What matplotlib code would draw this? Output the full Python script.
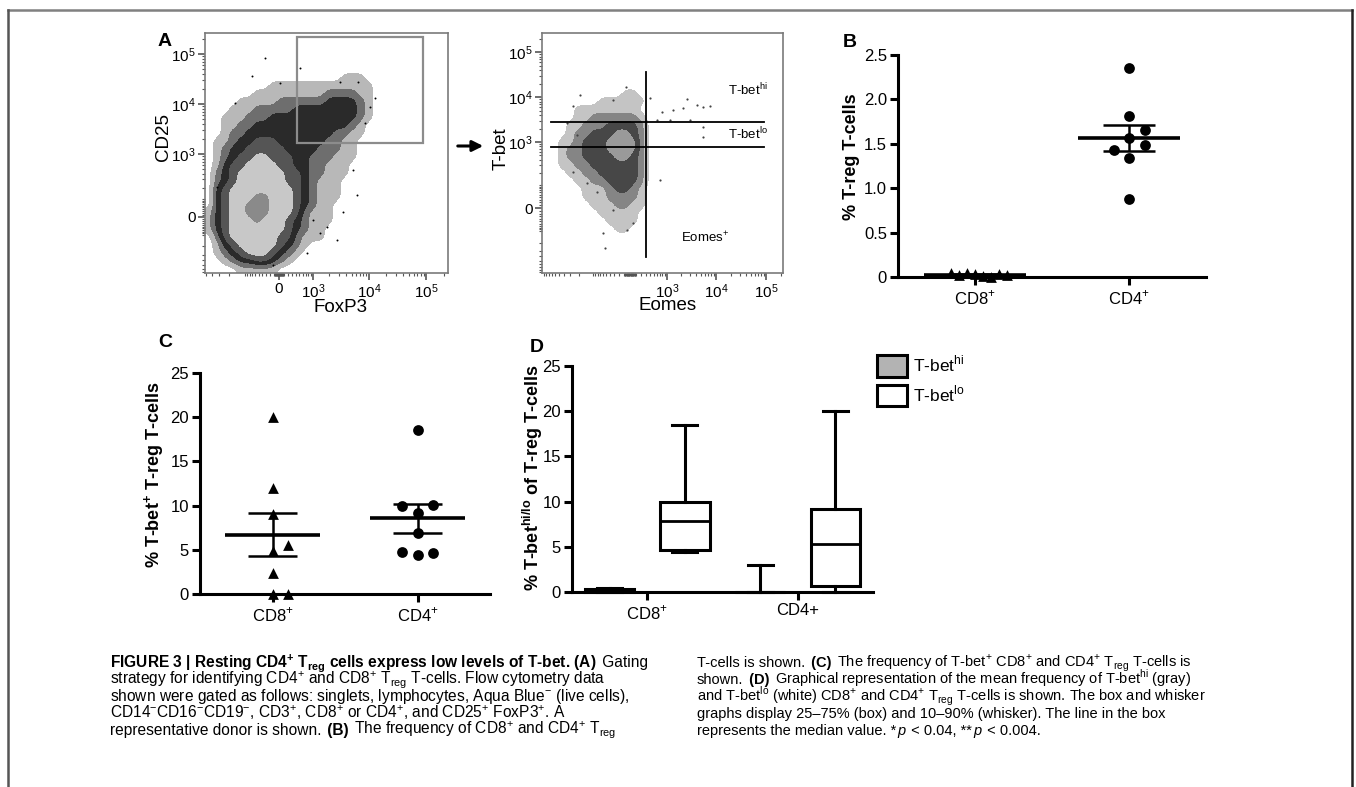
#!/usr/bin/env python3
# -*- coding: utf-8 -*-
"""Figure 3 重绘：流式门控图 (A) + GraphPad 风格散点 (B, C) + 箱线图 (D)。"""

import numpy as np
import matplotlib
matplotlib.use('Agg')
import matplotlib.pyplot as plt
from matplotlib.colors import BoundaryNorm, ListedColormap
from matplotlib.lines import Line2D
from matplotlib.patches import FancyArrowPatch, Patch, Rectangle

plt.rcParams['font.family'] = ['Liberation Sans', 'DejaVu Sans']
CAP_FONT = ['Liberation Sans Narrow', 'Liberation Sans', 'DejaVu Sans']

# ---------------------------------------------------------------- data
# (A) 左：FoxP3 x CD25 密度，每格 8 个通道，自上而下；0 空白 … 6 峰心
FOX_CD25_DENSITY = [
    "000000000000000000000000000000",
    "000000000000000000000000000000",
    "000000000000000000000000000000",
    "000000000000000000000000000000",
    "000000000000000000000000000000",
    "000000000000000001110000000000",
    "000000001111111111111000000000",
    "000000111111111222211000000000",
    "000011111222222333321000000000",
    "000111222223333333321000000000",
    "001112223333333333321000000000",
    "001122333333333333210000000000",
    "001223333333333322110000000000",
    "011233444333333221100000000000",
    "012334444433332221100000000000",
    "012344554443322211100000000000",
    "013445555443322111000000000000",
    "023455555544322111000000000000",
    "023455555544321110000000000000",
    "034555555554321110000000000000",
    "034555665554321110000000000000",
    "034556665554321100000000000000",
    "134556665554211100000000000000",
    "134555655543211100000000000000",
    "134555555543211000000000000000",
    "024555555442111000000000000000",
    "013455555432100000000000000000",
    "012345554321000000000000000000",
    "001233443210000000000000000000",
    "000011111000000000000000000000",
]
FOX_DOTS_X = [47, 75, 135, 153, 165, 152, 138, 132, 115, 30, 12, 68, 108, 122,
              102, 148, 160, 170, 95, 60]
FOX_DOTS_Y = [197, 190, 191, 191, 166, 78, 61, 33, 40, 170, 86, 8, 53, 46,
              20, 103, 150, 175, 205, 215]
FOX_GATE = [430, 87000]        # FoxP3
CD25_GATE = [1650, 220000]     # CD25

# (A) 右：Eomes x T-bet 密度
EOMES_TBET_DENSITY = [
    "000000000000000000000000000000",
    "000000000000000000000000000000",
    "000000000000000000000000000000",
    "000000000000000000000000000000",
    "000000000000000000000000000000",
    "000000000000000000000000000000",
    "000000000000000000000000000000",
    "000000000011000000000000000000",
    "000000011111100000000000000000",
    "000011111111000000000000000000",
    "000011222222100000000000000000",
    "000112223333200000000000000000",
    "000122333443200000000000000000",
    "001123334444200000000000000000",
    "001223334444200000000000000000",
    "001223333443200000000000000000",
    "001122333333200000000000000000",
    "000112233333200000000000000000",
    "000011223333200000000000000000",
    "000001112332100000000000000000",
    "000001112222100000000000000000",
    "000000111221100000000000000000",
    "000000011111000000000000000000",
    "000000001111000000000000000000",
    "000000000110000000000000000000",
    "000000000000000000000000000000",
    "000000000000000000000000000000",
    "000000000000000000000000000000",
    "000000000000000000000000000000",
    "000000000000000000000000000000",
]
EOMES_DOTS_X = [38, 31, 71, 84, 108, 120, 131, 141, 145, 155, 161, 168, 148,
                161, 161, 128, 118, 115, 31, 45, 55, 71, 63, 85, 61, 91, 35, 25]
EOMES_DOTS_Y = [178, 167, 173, 186, 175, 161, 163, 165, 174, 168, 166, 167, 153,
                146, 136, 153, 93, 153, 101, 90, 81, 63, 25, 43, 40, 50, 138, 150]
TBET_CUTS = [2800, 780]
TBET_CUT_SPAN = [-7200, 90000]   # 横线在 Eomes 方向的范围
EOMES_CUT = 300
EOMES_CUT_SPAN = [-415, 36000]   # 竖线在 T-bet 方向的范围

# (B) % T-reg T-cells
B_CD8 = [0.03, 0.01, 0.04, 0.00, 0.02, 0.03, 0.05, 0.02]
B_CD4 = [2.35, 1.81, 1.57, 1.34, 0.875, 1.66, 1.49, 1.43]

# (C) % T-bet+ T-reg T-cells
C_CD8 = [20.0, 12.0, 9.0, 4.9, 5.5, 2.4, 0.0, 0.0]
C_CD4 = [18.5, 9.2, 10.1, 10.0, 6.9, 4.4, 4.6, 4.7]

# (D) 箱线：10-90% 须，25-75% 箱
D_CATS = [r'CD8$^{\mathregular{+}}$', 'CD4+']
D_HI = [dict(whislo=0.0, q1=0.0, med=0.1, q3=0.3, whishi=0.4),
        dict(whislo=0.0, q1=0.0, med=0.0, q3=0.0, whishi=3.0)]
D_LO = [dict(whislo=4.4, q1=4.7, med=7.9, q3=10.0, whishi=18.5),
        dict(whislo=0.0, q1=0.7, med=5.3, q3=9.15, whishi=20.0)]

CAP_LEFT = [
    [(r'FIGURE 3 | Resting CD4$^{\mathregular{+}}$ T$_{\mathregular{reg}}$ cells express low levels of T-bet. (A)', 'b'),
     (' Gating', 'n')],
    [(r'strategy for identifying CD4$^{\mathregular{+}}$ and CD8$^{\mathregular{+}}$ T$_{\mathregular{reg}}$ T-cells. Flow cytometry data', 'n')],
    [(r'shown were gated as follows: singlets, lymphocytes, Aqua Blue$^{\mathregular{-}}$ (live cells),', 'n')],
    [(r'CD14$^{\mathregular{-}}$CD16$^{\mathregular{-}}$CD19$^{\mathregular{-}}$, CD3$^{\mathregular{+}}$, CD8$^{\mathregular{+}}$ or CD4$^{\mathregular{+}}$, and CD25$^{\mathregular{+}}$ FoxP3$^{\mathregular{+}}$. A', 'n')],
    [('representative donor is shown.', 'n'), (' (B)', 'b'),
     (r' The frequency of CD8$^{\mathregular{+}}$ and CD4$^{\mathregular{+}}$ T$_{\mathregular{reg}}$', 'n')],
]
CAP_RIGHT = [
    [('T-cells is shown.', 'n'), (' (C)', 'b'),
     (r' The frequency of T-bet$^{\mathregular{+}}$ CD8$^{\mathregular{+}}$ and CD4$^{\mathregular{+}}$ T$_{\mathregular{reg}}$ T-cells is', 'n')],
    [('shown.', 'n'), (' (D)', 'b'),
     (r' Graphical representation of the mean frequency of T-bet$^{\mathregular{hi}}$ (gray)', 'n')],
    [(r'and T-bet$^{\mathregular{lo}}$ (white) CD8$^{\mathregular{+}}$ and CD4$^{\mathregular{+}}$ T$_{\mathregular{reg}}$ T-cells is shown. The box and whisker', 'n')],
    [('graphs display 25–75% (box) and 10–90% (whisker). The line in the box', 'n')],
    [('represents the median value. *', 'n'), ('p', 'i'), (' < 0.04, **', 'n'),
     ('p', 'i'), (' < 0.004.', 'n')],
]

# 流式轴：通道 = 零点 + k * asinh(v / w)
A1_X = (74, 25.0, 550)
A1_Y = (56, 21.7, 110)
A2_X = (88, 21.7, 377)
A2_Y = (65, 19.5, 68)

W, H = 1356.0, 787.0
fig = plt.figure(figsize=(W / 100, H / 100), dpi=100)


def rect(x0, y0, x1, y1):
    """像素框 (左, 上, 右, 下) -> figure 坐标。"""
    return [x0 / W, 1 - y1 / H, (x1 - x0) / W, (y1 - y0) / H]


def chan(v, p):
    z, k, w = p
    return z + k * np.arcsinh(np.asarray(v, dtype=float) / w)


def dec_label(v):
    if v == 0:
        return '0'
    return r'$\mathregular{10^{%d}}$' % int(round(np.log10(v)))


def flow_axes(box, xp, yp, xmaj, ymaj):
    ax = fig.add_axes(rect(*box))
    wpx, hpx = box[2] - box[0], box[3] - box[1]
    for s in ax.spines.values():
        s.set_color('#7a7a7a')
        s.set_linewidth(1.2)
    minor = [s * m * 10 ** e for s in (1, -1) for e in range(1, 6) for m in range(1, 10)]
    for axis, p, maj, lim in ((ax.xaxis, xp, xmaj, wpx), (ax.yaxis, yp, ymaj, hpx)):
        axis.set_ticks(chan(maj, p))
        axis.set_ticklabels([dec_label(v) for v in maj])
        mn = chan([v for v in minor if v not in maj] + ([0] if 0 not in maj else []), p)
        axis.set_ticks(mn[(mn > 0) & (mn < lim)], minor=True)
    ax.tick_params(which='major', length=5, width=1.2, color='#555555',
                   labelsize=11, pad=1.5)
    ax.tick_params(which='minor', length=2.5, width=0.8, color='#555555')
    return ax, wpx, hpx


def density(ax, rows, colors, wpx, hpx):
    z = np.array([[int(c) for c in r.ljust(30, '0')[:30]] for r in rows[::-1]], float)
    cmap = ListedColormap([(1, 1, 1, 0)] + colors)
    norm = BoundaryNorm(np.arange(-0.5, len(colors) + 1), cmap.N)
    ax.imshow(z, origin='lower', extent=(0, 8 * z.shape[1], 0, 8 * z.shape[0]),
              cmap=cmap, norm=norm, interpolation='bicubic',
              interpolation_stage='data', aspect='auto', zorder=1)
    ax.set_xlim(0, wpx)
    ax.set_ylim(0, hpx)


def dodge(ax, x0, vals, step_px=15.5, diam_px=11.0, max_px=32.0):
    """GraphPad 式排布：同高度的点左右错开。"""
    tr = ax.transData.transform
    placed, offs = [], []
    for v in vals:
        py = tr((x0, v))[1]
        for k in (0, 1, -1, 2, -2, 3, -3, 4, -4, 5, -5):
            px = k * step_px
            if all(np.hypot(px - qx, py - qy) >= diam_px for qx, qy in placed):
                break
        placed.append((px, py))
        offs.append(px)
    offs = np.array(offs)
    if np.abs(offs).max() > max_px:
        offs *= max_px / np.abs(offs).max()
    sx = tr((1, 0))[0] - tr((0, 0))[0]
    return x0 + offs / sx


def prism_axes(box, ylim, yticks, ylabels, cats, ylabel, lab_xy):
    ax = fig.add_axes(rect(*box))
    ax.set_xlim(0.5, 2.5)
    ax.set_ylim(*ylim)
    for s in ('top', 'right'):
        ax.spines[s].set_visible(False)
    for s in ('left', 'bottom'):
        ax.spines[s].set_linewidth(2.2)
    ax.set_yticks(yticks)
    ax.set_yticklabels(ylabels)
    ax.set_xticks([1, 2])
    ax.set_xticklabels(cats)
    ax.tick_params(length=6, width=2.2, labelsize=12, pad=2)
    ax.text(lab_xy[0], lab_xy[1], ylabel, transform=ax.transAxes, rotation=90,
            ha='center', va='center', fontsize=13, fontweight='bold')
    return ax


def mean_sem(ax, x0, vals, half=0.33, cap=0.17):
    m = np.mean(vals)
    se = np.std(vals, ddof=1) / np.sqrt(len(vals))
    ax.hlines(m, x0 - half, x0 + half, color='black', lw=2.6, zorder=4)
    ax.vlines(x0, m - se, m + se, color='black', lw=1.8, zorder=4)
    ax.hlines([m - se, m + se], x0 - cap, x0 + cap, color='black', lw=1.8, zorder=4)


def points(ax, x0, vals, marker, **kw):
    xs = dodge(ax, x0, vals, **kw)
    ax.scatter(xs, vals, marker=marker, s=60, color='black', zorder=5,
               clip_on=False, linewidths=0)


# ---------------------------------------------------------------- A 左
ax, wpx, hpx = flow_axes((205, 33, 448, 273), A1_X, A1_Y,
                         [0, 1e3, 1e4, 1e5], [0, 1e3, 1e4, 1e5])
density(ax, FOX_CD25_DENSITY,
        ['#b8b8b8', '#6e6e6e', '#2a2a2a', '#555555', '#c8c8c8', '#8a8a8a'], wpx, hpx)
ax.scatter(FOX_DOTS_X, FOX_DOTS_Y, s=2, color='black', linewidths=0, zorder=2)
gx, gy = chan(FOX_GATE, A1_X), chan(CD25_GATE, A1_Y)
ax.add_patch(Rectangle((gx[0], gy[0]), gx[1] - gx[0], gy[1] - gy[0], fill=False,
                       ec='#8c8c8c', lw=1.6, zorder=3))
ax.text(0.556, -0.145, 'FoxP3', transform=ax.transAxes, ha='center', va='center',
        fontsize=13.5)
ax.text(-0.17, 0.567, 'CD25', transform=ax.transAxes, ha='center', va='center',
        rotation=90, fontsize=13.5)

# ---------------------------------------------------------------- A 右
ax, wpx, hpx = flow_axes((542, 33, 783, 273), A2_X, A2_Y,
                         [1e3, 1e4, 1e5], [0, 1e3, 1e4, 1e5])
density(ax, EOMES_TBET_DENSITY, ['#c4c4c4', '#858585', '#474747', '#9a9a9a'], wpx, hpx)
ax.scatter(EOMES_DOTS_X, EOMES_DOTS_Y, s=2.5, color='#444444', linewidths=0, zorder=2)
hx = chan(TBET_CUT_SPAN, A2_X)
for cut in TBET_CUTS:
    yc = float(chan(cut, A2_Y))
    ax.plot(hx, [yc, yc], color='black', lw=1.3, zorder=3)
xc = float(chan(EOMES_CUT, A2_X))
ax.plot([xc, xc], chan(EOMES_CUT_SPAN, A2_Y), color='black', lw=1.3, zorder=3)
ax.text(206, 183, r'T-bet$^{\mathregular{hi}}$', ha='center', va='center', fontsize=9.5)
ax.text(206, 139, r'T-bet$^{\mathregular{lo}}$', ha='center', va='center', fontsize=9.5)
ax.text(163, 35, r'Eomes$^{\mathregular{+}}$', ha='center', va='center', fontsize=9.5)
ax.text(0.519, -0.135, 'Eomes', transform=ax.transAxes, ha='center', va='center',
        fontsize=13.5)
ax.text(-0.17, 0.52, 'T-bet', transform=ax.transAxes, ha='center', va='center',
        rotation=90, fontsize=13.5)

fig.add_artist(FancyArrowPatch(
    (455 / W, 1 - 146 / H), (486 / W, 1 - 146 / H), transform=fig.transFigure,
    arrowstyle='-|>', mutation_scale=16, lw=2.2, color='black'))

# ---------------------------------------------------------------- B
ax = prism_axes((898, 55, 1206, 277), (0, 2.5), [0, 0.5, 1.0, 1.5, 2.0, 2.5],
                ['0', '0.5', '1.0', '1.5', '2.0', '2.5'],
                [r'CD8$^{\mathregular{+}}$', r'CD4$^{\mathregular{+}}$'],
                '% T-reg T-cells', (-0.15, 0.54))
mean_sem(ax, 1, B_CD8)
mean_sem(ax, 2, B_CD4)
points(ax, 1, B_CD8, '^')
points(ax, 2, B_CD4, 'o')

# ---------------------------------------------------------------- C
ax = prism_axes((200, 373, 490, 594), (0, 25), [0, 5, 10, 15, 20, 25],
                ['0', '5', '10', '15', '20', '25'],
                [r'CD8$^{\mathregular{+}}$', r'CD4$^{\mathregular{+}}$'],
                r'% T-bet$^{\mathregular{+}}$ T-reg T-cells', (-0.16, 0.538))
mean_sem(ax, 1, C_CD8)
mean_sem(ax, 2, C_CD4)
points(ax, 1, C_CD8, '^')
points(ax, 2, C_CD4, 'o')

# ---------------------------------------------------------------- D
ax = prism_axes((572, 366, 873, 592), (0, 25), [0, 5, 10, 15, 20, 25],
                ['0', '5', '10', '15', '20', '25'], D_CATS,
                r'% T-bet$^{\mathregular{hi/lo}}$ of T-reg T-cells', (-0.13, 0.505))
box_kw = dict(widths=0.33, patch_artist=True, showfliers=False, manage_ticks=False,
              medianprops=dict(color='black', lw=2.0),
              whiskerprops=dict(color='black', lw=2.2),
              capprops=dict(color='black', lw=2.2))
b1 = ax.bxp([dict(s, fliers=[]) for s in D_HI], positions=[0.75, 1.75],
            boxprops=dict(facecolor='#b3b3b3', edgecolor='black', lw=2.2), **box_kw)
b2 = ax.bxp([dict(s, fliers=[]) for s in D_LO], positions=[1.25, 2.25],
            boxprops=dict(facecolor='white', edgecolor='black', lw=2.2), **box_kw)
for part in ('whiskers', 'caps', 'medians', 'boxes'):
    for a in b1[part] + b2[part]:
        a.set_clip_on(False)
ax.legend(handles=[Patch(facecolor='#b3b3b3', edgecolor='black', lw=2.2,
                         label=r'T-bet$^{\mathregular{hi}}$'),
                   Patch(facecolor='white', edgecolor='black', lw=2.2,
                         label=r'T-bet$^{\mathregular{lo}}$')],
          loc='upper left', bbox_to_anchor=(877 / W, 1 - 354 / H),
          bbox_transform=fig.transFigure, frameon=False, fontsize=12.5,
          handlelength=1.75, handleheight=1.55, handletextpad=0.35,
          labelspacing=0.4, borderpad=0, borderaxespad=0)

# ---------------------------------------------------------------- 面板字母
for letter, (px, py) in zip('ABCD', [(158, 33), (843, 34), (158, 334), (530, 339)]):
    fig.text(px / W, 1 - py / H, letter, fontsize=14, fontweight='bold', va='top')

# ---------------------------------------------------------------- 图注
renderer = fig.canvas.get_renderer()


def rich_line(x, y, parts, size):
    x = x / W
    for s, st in parts:
        t = fig.text(x, 1 - y / H, s, family=CAP_FONT, fontsize=size,
                     fontweight='bold' if st == 'b' else 'normal',
                     fontstyle='italic' if st == 'i' else 'normal', va='baseline')
        # 段与段之间留 1 px，免得包围盒相互压住
        x += (t.get_window_extent(renderer).width + 1.5) / W


# 原图左栏字距略宽，右栏略窄
for i, parts in enumerate(CAP_LEFT):
    rich_line(110, 667 + 16.9 * i, parts, 11.2)
for i, parts in enumerate(CAP_RIGHT):
    rich_line(697, 667 + 16.9 * i, parts, 10.5)

# 外框
for xs, ys, c in (([8, 1352], [10, 10], '#808080'), ([8, 8], [10, 787], '#555555'),
                  ([1352, 1352], [10, 787], '#222222')):
    fig.add_artist(Line2D([v / W for v in xs], [1 - v / H for v in ys], lw=1.8,
                          color=c, transform=fig.transFigure))

fig.savefig('out.png', dpi=100)
